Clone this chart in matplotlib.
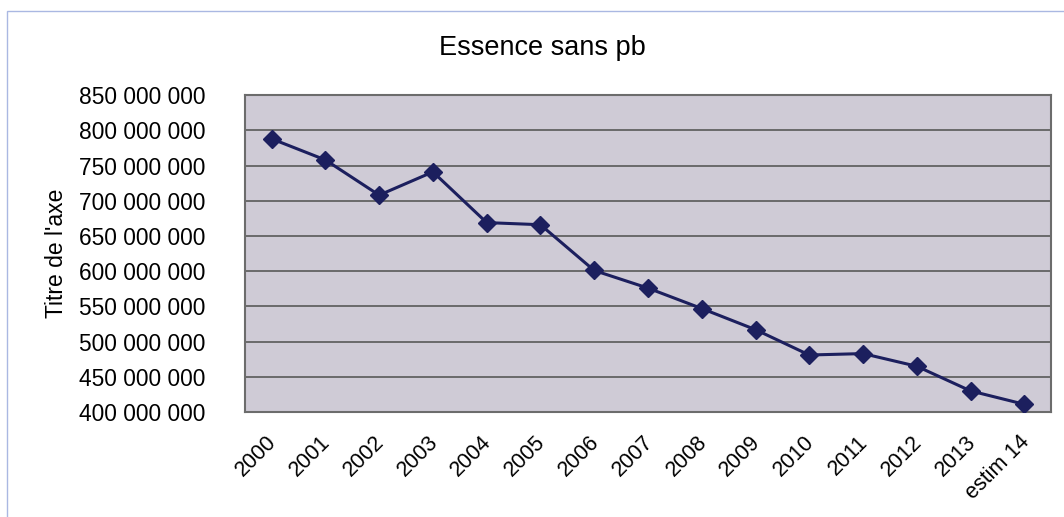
import matplotlib.pyplot as plt
from matplotlib.patches import Rectangle
from matplotlib.ticker import FuncFormatter
from matplotlib.transforms import ScaledTranslation

plt.rcParams['font.family'] = ['Liberation Sans', 'DejaVu Sans']

years = ['2000', '2001', '2002', '2003', '2004', '2005', '2006', '2007',
         '2008', '2009', '2010', '2011', '2012', '2013', 'estim 14']
volumes = [788e6, 758e6, 708e6, 741e6, 669e6, 666e6, 601e6, 576e6,
           547e6, 517e6, 481e6, 483e6, 465e6, 430e6, 411e6]
yticks = list(range(400_000_000, 850_000_001, 50_000_000))

fig = plt.figure(figsize=(10.64, 5.17), dpi=100)
ax = fig.add_axes([0.230, 0.203, 0.758, 0.613])

# outer chart frame (light blue)
fig.patches.append(Rectangle((7 / 1064, -0.05), 1.1, 1 - 11 / 517 + 0.05,
                             transform=fig.transFigure, fill=False,
                             edgecolor='#aab8e2', linewidth=1.0))

ax.set_facecolor('#cfcbd6')
x = range(len(years))
ax.plot(x, volumes, color='#1c1f5e', linewidth=2.2, marker='D',
        markersize=9, zorder=3)

ax.set_xlim(-0.5, len(years) - 0.5)
ax.set_ylim(400_000_000, 850_000_000)
ax.set_yticks(yticks)
ax.yaxis.set_major_formatter(FuncFormatter(lambda v, p: f'{int(v):,}'.replace(',', ' ')))
ax.grid(axis='y', color='#626262', linewidth=1.3)
ax.set_axisbelow(True)

ax.set_xticks(list(x))
ax.set_xticklabels(years, rotation=45, ha='right', rotation_mode='anchor')
ax.tick_params(axis='y', length=0, labelsize=16.4, pad=28)
ax.tick_params(axis='x', length=0, labelsize=15.5, pad=14)
shift = ScaledTranslation(-4 / 72, 0, fig.dpi_scale_trans)
for lbl in ax.get_xticklabels():
    lbl.set_transform(lbl.get_transform() + shift)

for s in ax.spines.values():
    s.set_color('#6c6c6c')
    s.set_linewidth(1.5)

ax.set_ylabel("Titre de l'axe", fontsize=16.5, labelpad=8)
fig.text(0.51, 0.907, 'Essence sans pb', fontsize=19.5, ha='center', va='center')

fig.savefig('out.png', dpi=100, facecolor='white')
